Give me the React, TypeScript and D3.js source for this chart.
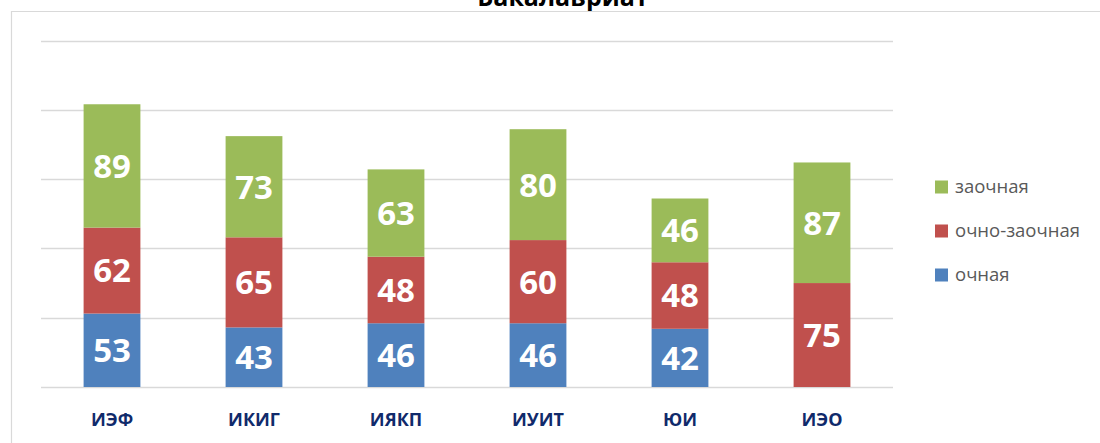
import { useMemo } from 'react';
import * as d3 from 'd3';

/* ═══ data ═══ */
const categories = ['ИЭФ', 'ИКИГ', 'ИЯКП', 'ИУИТ', 'ЮИ', 'ИЭО'];
const ochnaya = [53, 43, 46, 46, 42, 0];
const ochnoZaochnaya = [62, 65, 48, 60, 48, 75];
const zaochnaya = [89, 73, 63, 80, 46, 87];
const seriesNames = ['очная', 'очно-заочная', 'заочная'];
const seriesColors = ['#4f81bd', '#c0504d', '#9bbb59'];
const yTicks = [0, 50, 100, 150, 200, 250];

const W = 1100;
const H = 443;
const FONT = '"Open Sans", "DejaVu Sans", sans-serif';

export default function App() {
  const x = useMemo(
    () => d3.scaleBand<string>().domain(categories).range([41, 893]).paddingInner(0.6).paddingOuter(0.3),
    []
  );
  const y = useMemo(() => d3.scaleLinear().domain([0, 250]).range([387, 40.5]), []);

  const stacked = useMemo(() => {
    const rows = categories.map((c, i) => ({
      cat: c,
      'очная': ochnaya[i],
      'очно-заочная': ochnoZaochnaya[i],
      'заочная': zaochnaya[i],
    }));
    return d3.stack<any>().keys(seriesNames)(rows);
  }, []);

  return (
    <svg width={W} height={H} style={{ position: 'fixed', left: 0, top: 0, background: '#fff' }}>
      {/* title, mostly cropped */}
      <text x={563} y={6} textAnchor="middle" fontFamily={FONT} fontWeight={700} fontSize={25} fill="#000">
        Бакалавриат
      </text>
      {/* chart frame */}
      <line x1={11} x2={W} y1={11.5} y2={11.5} stroke="#d9d9d9" strokeWidth={1.2} />
      <line x1={11.5} x2={11.5} y1={11} y2={H} stroke="#d9d9d9" strokeWidth={1.2} />

      {/* gridlines */}
      {yTicks.map(t => (
        <line key={t} x1={41} x2={893} y1={Math.round(y(t)) + 0.5} y2={Math.round(y(t)) + 0.5}
          stroke="#d9d9d9" strokeWidth={1.3} />
      ))}

      {/* bars */}
      {stacked.map((s, si) => (
        <g key={s.key}>
          {s.map((d, i) => {
            const v = d[1] - d[0];
            if (!v) return null;
            const x0 = x(categories[i])!;
            const top = y(d[1]);
            const bot = y(d[0]);
            return (
              <g key={i}>
                <rect x={x0} y={top} width={x.bandwidth()} height={bot - top} fill={seriesColors[si]} />
                <text x={x0 + x.bandwidth() / 2} y={(top + bot) / 2} dy="0.36em" textAnchor="middle"
                  fontFamily={FONT} fontWeight={700} fontSize={33} fill="#fff">
                  {v}
                </text>
              </g>
            );
          })}
        </g>
      ))}

      {/* category labels */}
      {categories.map(c => (
        <text key={c} x={x(c)! + x.bandwidth() / 2} y={426} textAnchor="middle"
          fontFamily={FONT} fontWeight={700} fontSize={18} fill="#102a6b">
          {c}
        </text>
      ))}

      {/* legend */}
      {[2, 1, 0].map((si, k) => (
        <g key={si} transform={`translate(935, ${187 + k * 44})`}>
          <rect x={0} y={-6.5} width={13} height={13} fill={seriesColors[si]} />
          <text x={20} y={0} dy="0.35em" fontFamily={FONT} fontSize={18.5} fill="#595959">
            {seriesNames[si]}
          </text>
        </g>
      ))}
    </svg>
  );
}
